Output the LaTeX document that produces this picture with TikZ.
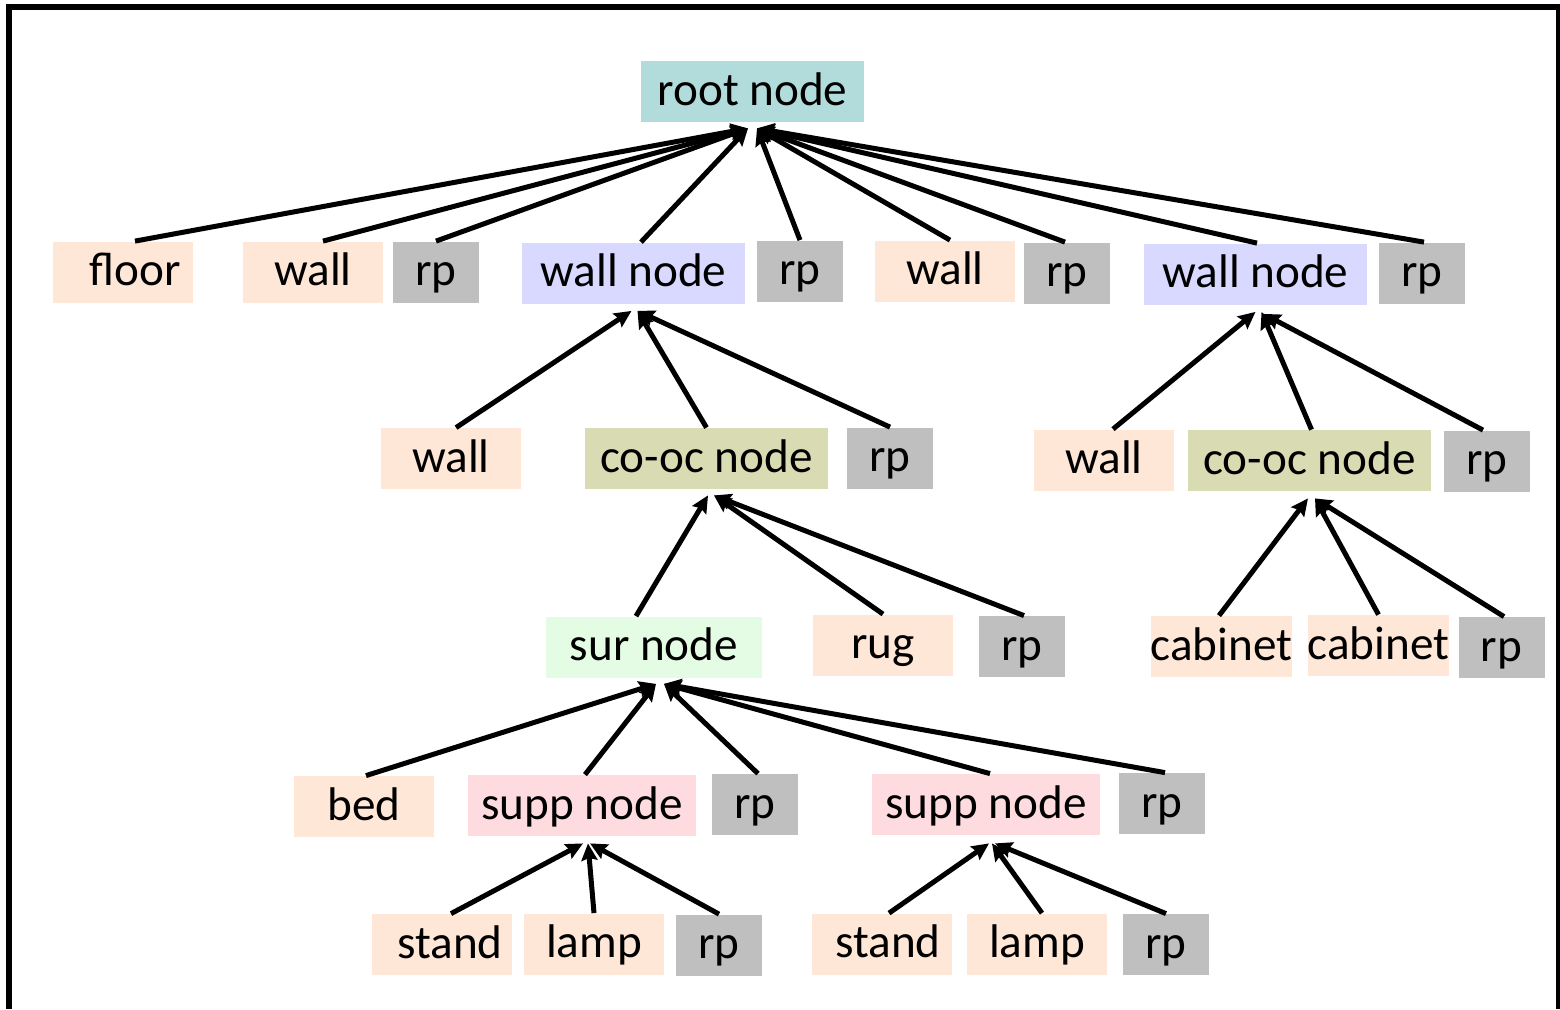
\documentclass[tikz,border=0pt]{standalone}
\usepackage{fontspec}
\setmainfont{Carlito}
\usetikzlibrary{arrows.meta}

\definecolor{leafc}{RGB}{255,231,215}
\definecolor{rpc}{RGB}{191,191,191}
\definecolor{rootc}{RGB}{178,219,219}
\definecolor{wallc}{RGB}{217,217,255}
\definecolor{coocc}{RGB}{217,219,178}
\definecolor{surc}{RGB}{227,252,227}
\definecolor{suppc}{RGB}{254,219,222}

\tikzset{
  box/.style={inner sep=0pt, minimum height=30.5pt, text height=17.6pt, text depth=4pt,
              font=\fontsize{23.6}{28}\selectfont},
  leaf/.style={box, fill=leafc, minimum width=70pt},
  rpbox/.style={box, fill=rpc, minimum width=43pt},
  rootbox/.style={box, fill=rootc, minimum width=111.5pt},
  wallbox/.style={box, fill=wallc, minimum width=111.5pt},
  coocbox/.style={box, fill=coocc, minimum width=121.5pt},
  surbox/.style={box, fill=surc, minimum width=108pt},
  suppbox/.style={box, fill=suppc, minimum width=114pt},
  arr/.style={line width=2.5pt, -{Stealth[length=8.5pt,width=8pt,inset=1.2pt]}}
}

\begin{document}
\begin{tikzpicture}[x=0.5pt, y=-0.5pt]
\useasboundingbox (0,0) rectangle (1560,1009);
\fill[white] (0,0) rectangle (1560,1009);

% outer frame (open at the bottom)
\draw[line width=3pt, line join=miter] (9,1009) -- (9,6.5) -- (1558.5,6.5) -- (1558.5,1009);

% level 0
\node[rootbox] (root) at (752.5,91.5) {root node};

% level 1
\node[leaf]    (floor) at (123,272)    {\hspace*{12pt}floor};
\node[leaf]    (w1)    at (313,272)    {wall};
\node[rpbox]   (rp1)   at (436,272)    {rp};
\node[wallbox] (wn1)   at (633.5,273)  {wall node};
\node[rpbox]   (rp2)   at (800,271)    {rp};
\node[leaf]    (w2)    at (945,271)    {wall};
\node[rpbox]   (rp3)   at (1067,273)   {rp};
\node[wallbox] (wn2)   at (1255.5,274) {wall node};
\node[rpbox]   (rp4)   at (1422,273)   {rp};

% level 2
\node[leaf]     (w3)  at (451,458.5)    {wall};
\node[coocbox]  (co1) at (706.5,458.5)  {co-oc node};
\node[rpbox]    (rp5) at (890,458)      {rp};
\node[leaf]     (w4)  at (1104,460)     {wall};
\node[coocbox]  (co2) at (1309.5,460.5) {co-oc node};
\node[rpbox]    (rp6) at (1487,461)     {rp};

% level 3
\node[surbox] (sur)  at (654,647)      {sur node};
\node[leaf]   (rug)  at (883,645)      {rug};
\node[rpbox]  (rp7)  at (1022,646.5)   {rp};
\node[leaf]   (cab1) at (1221.5,646.5) {cabinet};
\node[leaf]   (cab2) at (1378.5,645.5) {cabinet};
\node[rpbox]  (rp8)  at (1501.5,647.5) {rp};

% level 4
\node[leaf]     (bed)  at (364,806.5)  {bed};
\node[suppbox]  (sp1)  at (582,805.5)  {supp node};
\node[rpbox]    (rp9)  at (755,804.5)  {rp};
\node[suppbox]  (sp2)  at (986,804.5)  {supp node};
\node[rpbox]    (rp10) at (1162,803.5) {rp};

% level 5
\node[leaf]  (st1)  at (442,944.5) {\hspace*{8pt}stand};
\node[leaf]  (lp1)  at (594,944)   {lamp};
\node[rpbox] (rp11) at (719,945)   {rp};
\node[leaf]  (st2)  at (882,944)   {\hspace*{6pt}stand};
\node[leaf]  (lp2)  at (1037,944)  {lamp};
\node[rpbox] (rp12) at (1166,944.5){rp};

% edges into the root
\draw[arr] ([xshift=6pt]floor.north) -- ([xshift=-2.25pt,yshift=-3pt]root.south);
\draw[arr] ([xshift=5pt]w1.north)    -- ([xshift=-2.25pt,yshift=-3pt]root.south);
\draw[arr] (rp1.north)               -- ([xshift=-2.25pt,yshift=-3pt]root.south);
\draw[arr] ([xshift=3.75pt]wn1.north) -- ([xshift=-2.25pt,yshift=-3pt]root.south);
\draw[arr] (rp2.north)               -- ([xshift=2.25pt,yshift=-3pt]root.south);
\draw[arr] ([xshift=2.5pt]w2.north)  -- ([xshift=2.25pt,yshift=-3pt]root.south);
\draw[arr] ([xshift=-1pt]rp3.north)  -- ([xshift=2.25pt,yshift=-3pt]root.south);
\draw[arr] ([xshift=0.75pt]wn2.north) -- ([xshift=2.25pt,yshift=-3pt]root.south);
\draw[arr] ([xshift=1pt]rp4.north)   -- ([xshift=2.25pt,yshift=-3pt]root.south);

% edges into the left wall node
\draw[arr] ([xshift=2.5pt]w3.north) -- ([xshift=-1pt,yshift=-3.5pt]wn1.south);
\draw[arr] (co1.north)              -- ([xshift=2pt,yshift=-3.5pt]wn1.south);
\draw[arr] (rp5.north)              -- ([xshift=2pt,yshift=-3.5pt]wn1.south);

% edges into the right wall node
\draw[arr] ([xshift=4.5pt]w4.north) -- ([yshift=-3.5pt]wn2.south);
\draw[arr] ([xshift=1pt]co2.north)  -- ([xshift=3pt,yshift=-3.5pt]wn2.south);
\draw[arr] ([xshift=-2pt]rp6.north) -- ([xshift=4pt,yshift=-4.5pt]wn2.south);

% edges into the left co-oc node
\draw[arr] ([xshift=-9pt]sur.north) -- ([xshift=0.75pt,yshift=-3pt]co1.south);
\draw[arr] (rug.north)              -- ([xshift=3.75pt,yshift=-3pt]co1.south);
\draw[arr] ([xshift=1pt]rp7.north)  -- ([xshift=3.75pt,yshift=-3pt]co1.south);

% edges into the right co-oc node
\draw[arr] ([xshift=-1.25pt]cab1.north) -- ([xshift=-0.75pt,yshift=-3.5pt]co2.south);
\draw[arr] (cab2.north)                 -- ([xshift=2.75pt,yshift=-3.5pt]co2.south);
\draw[arr] ([xshift=1.25pt]rp8.north)   -- ([xshift=2.75pt,yshift=-3.5pt]co2.south);

% edges into the sur node
\draw[arr] ([xshift=1pt]bed.north)   -- ([xshift=1pt,yshift=-3pt]sur.south);
\draw[arr] ([xshift=1.5pt]sp1.north) -- ([xshift=1pt,yshift=-3pt]sur.south);
\draw[arr] ([xshift=1.5pt]rp9.north) -- ([xshift=5pt,yshift=-3pt]sur.south);
\draw[arr] ([xshift=2pt]sp2.north)   -- ([xshift=5pt,yshift=-3pt]sur.south);
\draw[arr] ([xshift=1.5pt]rp10.north) -- ([xshift=5pt,yshift=-3pt]sur.south);

% edges into the left supp node
\draw[arr] ([xshift=4.5pt]st1.north) -- ([xshift=0.5pt,yshift=-3.5pt]sp1.south);
\draw[arr] (lp1.north)               -- ([xshift=3pt,yshift=-3.5pt]sp1.south);
\draw[arr] (rp11.north)              -- ([xshift=4pt,yshift=-3.5pt]sp1.south);

% edges into the right supp node
\draw[arr] ([xshift=3.5pt]st2.north) -- ([xshift=1.5pt,yshift=-4pt]sp2.south);
\draw[arr] ([xshift=2.5pt]lp2.north) -- ([xshift=3pt,yshift=-4pt]sp2.south);
\draw[arr] (rp12.north)              -- ([xshift=4.5pt,yshift=-4pt]sp2.south);
\end{tikzpicture}
\end{document}
